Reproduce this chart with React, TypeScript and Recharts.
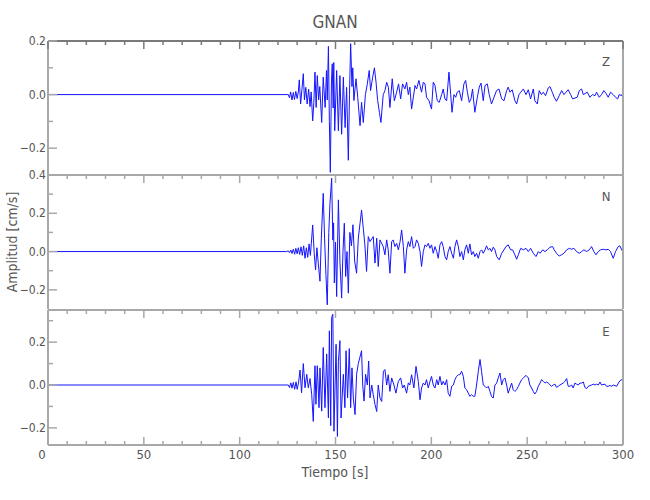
import React from 'react';
import { LineChart, Line, XAxis, YAxis } from 'recharts';

// seismogram GNAN, three components, (tiempo s, amplitud cm/s)
const traceZ: [number, number][] = [
  [0, 0], [125.4, 0], [126.0, -0.012], [126.6, 0.01], [127.3, -0.02], [128.0, 0.008], [128.6, -0.018],
  [129.3, 0.012], [130.0, -0.015], [130.6, 0.01], [131.1, 0.055], [131.8, -0.035], [132.5, 0.02],
  [133.2, 0.078], [133.8, -0.02], [134.5, 0.027], [135.2, -0.035], [136.0, 0.02], [136.7, -0.045],
  [137.3, 0.01], [138.1, -0.098], [138.7, -0.03], [139.3, 0.084], [139.9, -0.048], [140.5, 0.071],
  [141.2, -0.02], [141.8, 0.03], [142.8, -0.104], [143.6, 0.065], [144.6, -0.048], [145.3, 0.09],
  [145.7, -0.02], [146.3, 0.18], [146.8, -0.1], [147.3, -0.29], [147.9, 0.05], [148.3, 0.115],
  [148.8, -0.05], [149.1, 0.12], [149.6, -0.135], [150.6, 0.09], [151.5, -0.135], [152.3, 0.071],
  [153.2, -0.148], [154.1, 0.065], [155.0, -0.123], [155.8, 0.027], [156.7, -0.245], [157.3, 0.0],
  [157.9, 0.19], [158.6, 0.03], [159.0, 0.1], [159.6, -0.022], [160.7, 0.059], [161.6, -0.01],
  [162.8, -0.116], [163.6, -0.029], [164.5, -0.104], [165.6, 0.0], [166.6, 0.04], [167.6, 0.09],
  [168.3, 0.015], [169.4, 0.065], [170.3, 0.1], [171.1, 0.05], [172.0, -0.022], [172.9, -0.066],
  [173.7, -0.104], [174.9, 0.0], [175.8, 0.015], [176.7, 0.046], [177.6, 0.027], [178.4, -0.048],
  [179.6, 0.059], [180.7, -0.023], [181.9, 0.009], [182.9, 0.04], [184.0, -0.016], [185.0, 0.04],
  [186.2, 0.021], [187.1, 0.046], [188.0, 0.0], [188.8, 0.028], [189.7, -0.054], [190.6, -0.01],
  [191.5, 0.034], [192.3, 0.021], [193.5, 0.053], [194.9, 0.009], [195.8, 0.046], [196.7, 0.04],
  [197.5, -0.01], [198.8, -0.023], [200.1, -0.054], [201.0, 0.046], [201.9, 0.034], [203.1, -0.023],
  [204.1, -0.029], [205.4, 0.0], [206.2, 0.021], [207.1, -0.016], [208.0, -0.023], [209.2, 0.084],
  [210.1, 0.0], [210.8, -0.066], [211.8, 0.0], [212.7, -0.01], [213.5, 0.009], [214.6, 0.015],
  [215.8, -0.023], [217.0, 0.04], [217.9, 0.053], [218.8, 0.009], [219.8, -0.029], [220.7, -0.016],
  [221.5, 0.021], [222.7, -0.066], [224.0, -0.01], [225.0, 0.028], [225.9, 0.043], [227.1, -0.023],
  [228.0, 0.034], [229.2, 0.04], [230.2, 0.0], [231.4, -0.035], [232.7, -0.01], [234.0, 0.015],
  [235.3, 0.021], [236.7, -0.016], [237.9, -0.023], [239.3, 0.015], [240.1, 0.028], [241.0, 0.009],
  [242.2, 0.018], [243.6, -0.023], [244.5, -0.035], [245.7, 0.0], [246.7, 0.009], [248.0, 0.021],
  [249.4, 0.0], [250.6, 0.018], [251.8, -0.016], [253.2, 0.021], [254.0, -0.023], [255.3, -0.035],
  [256.3, 0.015], [257.4, 0.0], [258.4, 0.009], [259.6, -0.004], [261.0, 0.025], [261.9, 0.03],
  [263.1, 0.009], [264.1, -0.01], [265.3, -0.025], [266.7, -0.004], [268.0, 0.015], [269.2, 0.0],
  [271.4, 0.018], [272.7, 0.0], [273.7, -0.016], [276.1, -0.01], [277.2, 0.015], [278.4, 0.021],
  [279.3, 0.0], [281.4, 0.009], [282.7, -0.01], [284.1, 0.0], [285.4, -0.004], [286.2, 0.009],
  [287.6, -0.01], [288.8, 0.0], [290.0, 0.015], [291.1, 0.005], [292.3, -0.01], [293.5, 0.009],
  [294.9, 0.0], [296.1, -0.01], [297.2, -0.016], [298.0, 0.0], [299.3, -0.004], [300.0, 0.009],
];

const traceN: [number, number][] = [
  [0, 0], [124.5, 0], [125.4, 0.004], [126.0, -0.006], [126.7, 0.008], [127.3, -0.01], [128.0, 0.012],
  [128.7, -0.014], [129.3, 0.017], [130.0, -0.012], [130.6, 0.02], [131.3, -0.015], [132.0, 0.025],
  [132.7, -0.02], [133.4, 0.03], [134.1, -0.035], [134.8, 0.02], [135.5, -0.03], [136.2, 0.04],
  [136.9, -0.02], [138.1, 0.139], [138.9, -0.01], [139.6, -0.096], [140.3, 0.02], [141.0, -0.06],
  [141.9, -0.155], [142.6, 0.07], [143.6, 0.304], [144.3, 0.07], [145.0, -0.12], [145.7, -0.278],
  [146.5, 0.1], [147.1, 0.25], [148.0, 0.383], [148.6, 0.06], [149.0, 0.15], [149.4, -0.164],
  [150.0, 0.05], [150.6, -0.235], [151.5, 0.27], [152.3, -0.05], [153.2, -0.243], [153.9, 0.0],
  [154.6, 0.148], [155.3, -0.13], [156.0, 0.0], [156.7, -0.217], [157.5, 0.1], [158.3, 0.03],
  [159.1, 0.14], [160.0, -0.05], [161.0, -0.113], [161.9, 0.07], [162.8, 0.148], [163.6, 0.217],
  [164.5, 0.122], [165.3, 0.04], [166.2, -0.104], [167.1, 0.078], [168.0, 0.052], [169.7, 0.078],
  [170.6, -0.06], [171.5, 0.07], [172.3, -0.078], [173.2, 0.061], [174.9, 0.026], [175.8, -0.017],
  [176.7, 0.061], [177.5, 0.009], [178.4, -0.113], [179.3, 0.052], [180.1, 0.061], [181.0, 0.026],
  [181.9, 0.043], [182.8, 0.009], [183.7, 0.052], [184.5, 0.113], [185.4, 0.026], [186.2, -0.113],
  [187.1, 0.009], [188.0, 0.052], [188.8, 0.026], [189.7, 0.078], [190.6, 0.017], [191.5, 0.026],
  [192.3, 0.061], [193.2, 0.043], [194.1, 0.0], [194.9, -0.078], [195.8, 0.0], [196.7, 0.035],
  [197.5, 0.026], [198.4, 0.043], [199.3, 0.017], [200.1, 0.035], [201.0, -0.009], [201.9, 0.026],
  [202.8, 0.0], [203.6, -0.035], [204.5, 0.035], [205.4, 0.052], [206.2, 0.026], [207.1, -0.026],
  [208.0, -0.043], [208.8, 0.0], [209.7, 0.026], [210.6, -0.009], [211.5, -0.035], [212.3, 0.026],
  [213.2, 0.061], [214.1, 0.026], [214.9, -0.026], [215.8, 0.0], [216.7, -0.043], [217.5, 0.009],
  [218.4, 0.035], [219.3, -0.009], [220.1, 0.04], [221.0, -0.017], [221.9, 0.0], [222.7, -0.026],
  [223.6, -0.009], [224.5, -0.035], [225.4, 0.0], [226.2, 0.009], [227.1, -0.009], [228.0, 0.009],
  [228.8, 0.03], [229.7, 0.009], [230.6, 0.017], [231.4, 0.0], [232.3, 0.023], [233.2, 0.009],
  [234.1, -0.026], [235.4, -0.043], [236.7, -0.009], [237.9, 0.009], [238.9, 0.026], [240.1, 0.035],
  [241.4, 0.009], [242.4, 0.009], [243.6, -0.017], [244.5, -0.04], [245.4, -0.017], [246.6, 0.017],
  [248.0, 0.009], [249.4, 0.017], [250.6, 0.0], [251.8, 0.017], [253.2, -0.009], [254.6, -0.026],
  [255.8, 0.0], [256.7, -0.009], [258.1, 0.009], [259.3, 0.0], [260.5, 0.009], [261.9, 0.023],
  [263.3, 0.026], [264.1, 0.009], [265.3, -0.009], [266.7, -0.023], [267.9, -0.017], [269.2, -0.009],
  [270.6, 0.009], [272.0, 0.017], [273.2, 0.012], [274.4, 0.017], [275.8, 0.0], [277.2, -0.009],
  [278.4, 0.0], [279.6, 0.009], [281.0, 0.0], [282.4, 0.009], [283.6, 0.026], [284.8, 0.0],
  [285.9, -0.017], [287.1, 0.0], [288.3, 0.009], [289.7, 0.012], [291.1, 0.009], [292.3, 0.012],
  [293.5, 0.0], [294.9, -0.035], [296.1, 0.0], [297.5, 0.026], [298.4, 0.03], [299.3, 0.009], [300.0, 0.0],
];

const traceE: [number, number][] = [
  [0, 0], [125.4, 0], [126.0, -0.012], [126.7, 0.01], [127.3, -0.015], [128.0, 0.012], [128.7, -0.02],
  [129.4, 0.015], [130.0, -0.02], [130.7, 0.01], [131.5, 0.07], [132.3, -0.036], [133.2, 0.1],
  [134.1, -0.013], [135.0, 0.05], [135.8, -0.013], [136.7, 0.03], [137.6, -0.045], [138.4, -0.17],
  [139.3, 0.09], [139.8, -0.09], [140.5, 0.09], [141.4, -0.106], [141.9, 0.08], [142.8, -0.122],
  [143.6, 0.175], [144.5, -0.106], [145.4, 0.145], [146.3, -0.153], [146.8, 0.253], [147.5, -0.19],
  [148.0, 0.316], [148.6, 0.33], [149.2, -0.216], [150.3, 0.19], [151.0, -0.24], [151.5, 0.11],
  [152.3, 0.207], [152.9, -0.154], [154.1, 0.05], [154.9, -0.106], [155.5, 0.16], [156.3, -0.06],
  [157.2, 0.17], [157.9, -0.106], [158.6, 0.08], [159.3, -0.06], [160.2, -0.138], [161.0, 0.05],
  [161.9, 0.1], [163.6, 0.16], [164.2, 0.0], [164.9, -0.075], [165.7, 0.05], [166.6, 0.0],
  [167.3, 0.112], [168.0, -0.06], [168.9, 0.0], [169.7, -0.045], [170.6, -0.09], [171.5, -0.124],
  [172.3, 0.0], [173.2, -0.061], [174.1, -0.077], [175.0, 0.064], [175.8, 0.072], [176.7, 0.0],
  [177.5, 0.048], [178.4, -0.03], [179.3, 0.033], [180.5, 0.0], [181.5, -0.038], [182.8, 0.017],
  [184.0, 0.033], [185.0, -0.014], [185.9, 0.0], [187.1, -0.038], [188.0, 0.01], [188.8, 0.0],
  [189.7, 0.048], [190.9, -0.014], [192.0, 0.087], [193.2, 0.017], [194.1, -0.069], [194.9, -0.014],
  [195.8, 0.009], [196.7, 0.0], [197.5, 0.025], [198.4, -0.014], [199.3, 0.017], [200.1, 0.04],
  [201.0, 0.0], [201.9, -0.014], [202.8, 0.025], [203.6, 0.0], [204.5, 0.04], [205.4, 0.0],
  [206.2, 0.017], [207.1, 0.0], [208.0, 0.025], [208.8, -0.038], [209.7, -0.053], [210.6, -0.006],
  [211.5, 0.0], [212.3, 0.025], [213.2, 0.04], [214.1, 0.048], [214.9, 0.048], [215.8, 0.064],
  [216.7, 0.04], [217.5, -0.014], [218.4, -0.022], [219.3, -0.038], [220.1, -0.053], [221.0, -0.045],
  [221.9, -0.053], [222.7, -0.053], [223.6, 0.0], [224.5, 0.064], [225.4, 0.119], [226.2, 0.064],
  [227.1, 0.0], [228.0, -0.006], [228.8, -0.014], [229.7, -0.006], [230.6, -0.03], [231.4, -0.053],
  [232.3, -0.061], [233.2, 0.0], [234.1, 0.009], [234.9, 0.033], [235.8, 0.056], [236.7, 0.0],
  [237.5, 0.025], [238.4, 0.033], [239.3, 0.0], [240.1, -0.038], [241.0, -0.014], [241.9, 0.009],
  [242.7, -0.022], [243.6, -0.03], [244.5, -0.022], [245.4, -0.006], [246.2, 0.009], [247.1, 0.025],
  [248.0, 0.033], [249.4, 0.045], [250.6, 0.033], [251.4, 0.0], [252.3, -0.014], [253.2, -0.03],
  [254.0, -0.042], [254.9, -0.03], [255.8, -0.006], [256.7, 0.009], [257.5, 0.025], [258.4, 0.017],
  [259.3, 0.009], [260.1, 0.014], [261.0, 0.009], [262.7, -0.006], [263.6, 0.0], [264.5, 0.004],
  [265.3, -0.011], [266.2, -0.006], [267.1, 0.0], [268.8, 0.009], [269.7, 0.017], [270.6, 0.03],
  [271.4, -0.006], [272.3, -0.006], [273.2, 0.0], [274.0, -0.014], [274.9, 0.009], [275.8, 0.004],
  [276.7, 0.0], [277.5, 0.009], [278.4, 0.009], [279.3, 0.014], [280.1, -0.011], [281.0, -0.017],
  [281.9, -0.006], [283.6, 0.0], [284.5, 0.004], [285.4, 0.0], [286.2, 0.004], [287.1, 0.0],
  [288.0, 0.014], [288.8, 0.0], [290.6, 0.004], [291.4, -0.006], [292.3, -0.006], [293.2, -0.002],
  [294.1, -0.006], [294.9, 0.0], [296.7, -0.006], [297.6, 0.009], [298.4, 0.02], [299.3, 0.025],
  [300.0, 0.017],
];

const xTicks = [0, 10, 20, 30, 40, 50, 60, 70, 80, 90, 100, 110, 120, 130, 140, 150, 160, 170, 180, 190, 200,
  210, 220, 230, 240, 250, 260, 270, 280, 290, 300];
const yTicksZ = [-0.2, -0.1, 0, 0.1, 0.2];
const yTicksN = [-0.2, -0.1, 0, 0.1, 0.2, 0.3, 0.4];
const yTicksE = [-0.2, -0.1, 0, 0.1, 0.2, 0.3];

const FONT = '"Liberation Sans Narrow", "DejaVu Sans Condensed", "Arial Narrow", sans-serif';
const INK = '#555';
const FRAME = '#a8a8a8';
const TRACE = '#1414ff';

const isMajorX = (v: number) => v % 50 === 0;
const isMajorY = (v: number) => Math.round(Math.abs(v) * 10) % 2 === 0;
const fmtY = (v: number) => (v < -1e-9 ? '\u2212' : '') + Math.abs(v).toFixed(1);

function TopTick(props: any) {
  const { x, y, payload, stroke } = props;
  const len = isMajorX(payload.value) ? 8 : 4;
  return <line x1={x} y1={y} x2={x} y2={y + len} stroke={stroke} strokeWidth={1.5} />;
}

function BottomTick(props: any) {
  const { x, y, payload } = props;
  const major = isMajorX(payload.value);
  return (
    <g>
      <line x1={x} y1={y} x2={x} y2={y - (major ? 8 : 4)} stroke={FRAME} strokeWidth={1.5} />
      {major && (
        <text x={x} y={y + 14} dx={payload.value === 0 ? -6 : 0} textAnchor="middle" fontFamily={FONT}
          fontSize={13} fill={INK}>
          {payload.value}
        </text>
      )}
    </g>
  );
}

function LeftTick(props: any) {
  const { x, y, payload } = props;
  const major = isMajorY(payload.value);
  return (
    <g>
      <line x1={x} y1={y} x2={x + (major ? 9 : 5)} y2={y} stroke={FRAME} strokeWidth={1.5} />
      {major && (
        <text x={x - 2} y={y + 4} textAnchor="end" fontFamily={FONT} fontSize={12} fill={INK}>
          {fmtY(payload.value)}
        </text>
      )}
    </g>
  );
}

function RightTick(props: any) {
  const { x, y, payload } = props;
  const len = isMajorY(payload.value) ? 9 : 5;
  return <line x1={x} y1={y} x2={x - len} y2={y} stroke={FRAME} strokeWidth={1.5} />;
}

type PanelProps = {
  trace: [number, number][];
  domain: [number, number];
  yTicks: number[];
  top: number;
  height: number;
  marginTop: number;
  bottomHeight: number;
  showLabels: boolean;
  topStroke: string;
};

function Panel({ trace, domain, yTicks, top, height, marginTop, bottomHeight, showLabels, topStroke }: PanelProps) {
  const rows = trace.map(([t, v]) => ({ t, v }));
  return (
    <div style={{ position: 'absolute', left: 0, top }}>
      <LineChart width={650} height={height} data={rows} margin={{ top: marginTop, right: 0, bottom: 0, left: 0 }}>
        <XAxis
          xAxisId="top"
          orientation="top"
          type="number"
          dataKey="t"
          domain={[0, 300]}
          ticks={xTicks}
          interval={0}
          height={1}
          tickSize={0}
          tickMargin={0}
          tickLine={false}
          axisLine={{ stroke: topStroke, strokeWidth: 2 }}
          tick={(p: any) => <TopTick {...p} stroke={topStroke} />}
        />
        {showLabels && (
          <XAxis
            xAxisId="bottom"
            orientation="bottom"
            type="number"
            dataKey="t"
            domain={[0, 300]}
            ticks={xTicks}
            interval={0}
            height={bottomHeight}
            tickSize={0}
            tickMargin={0}
            tickLine={false}
            axisLine={{ stroke: FRAME, strokeWidth: 2 }}
            tick={(p: any) => <BottomTick {...p} />}
          />
        )}
        {!showLabels && (
          <XAxis xAxisId="bottom" orientation="bottom" type="number" dataKey="t" domain={[0, 300]} height={0} hide />
        )}
        <YAxis
          yAxisId="left"
          orientation="left"
          type="number"
          domain={domain}
          ticks={yTicks}
          interval={0}
          width={48}
          tickSize={0}
          tickMargin={0}
          tickLine={false}
          axisLine={{ stroke: FRAME, strokeWidth: 2 }}
          tick={(p: any) => <LeftTick {...p} />}
        />
        <YAxis
          yAxisId="right"
          orientation="right"
          type="number"
          domain={domain}
          ticks={yTicks}
          interval={0}
          width={27}
          tickSize={0}
          tickMargin={0}
          tickLine={false}
          axisLine={{ stroke: FRAME, strokeWidth: 2 }}
          tick={(p: any) => <RightTick {...p} />}
        />
        <Line
          xAxisId="bottom"
          yAxisId="left"
          type="linear"
          dataKey="v"
          stroke={TRACE}
          strokeWidth={1}
          dot={false}
          activeDot={false}
          isAnimationActive={false}
        />
      </LineChart>
    </div>
  );
}

export default function App() {
  return (
    <div style={{ position: 'absolute', left: 0, top: 0, width: 650, height: 500, background: '#fff' }}>
      <Panel trace={traceZ} domain={[-0.3, 0.2]} yTicks={yTicksZ} top={0} height={175} marginTop={40}
        bottomHeight={0} showLabels={false} topStroke="#7a7a7a" />
      <Panel trace={traceN} domain={[-0.3, 0.4]} yTicks={yTicksN} top={160} height={149} marginTop={14}
        bottomHeight={0} showLabels={false} topStroke={FRAME} />
      <Panel trace={traceE} domain={[-0.28, 0.35]} yTicks={yTicksE} top={300} height={200} marginTop={9}
        bottomHeight={55} showLabels topStroke={FRAME} />
      <svg width={650} height={500} style={{ position: 'absolute', left: 0, top: 0, pointerEvents: 'none' }}>
        <text x={335} y={28} textAnchor="middle" fontFamily={FONT} fontSize={17} fill={INK}>GNAN</text>
        <text x={606} y={66} textAnchor="middle" fontFamily={FONT} fontSize={13} fill={INK}>Z</text>
        <text x={606} y={201} textAnchor="middle" fontFamily={FONT} fontSize={13} fill={INK}>N</text>
        <text x={606} y={336} textAnchor="middle" fontFamily={FONT} fontSize={13} fill={INK}>E</text>
        <text x={335} y={477} textAnchor="middle" fontFamily={FONT} fontSize={14} fill={INK}>Tiempo [s]</text>
        <text x={17} y={242} textAnchor="middle" fontFamily={FONT} fontSize={14} fill={INK}
          transform="rotate(-90 17 242)">Amplitud [cm/s]</text>
      </svg>
    </div>
  );
}
